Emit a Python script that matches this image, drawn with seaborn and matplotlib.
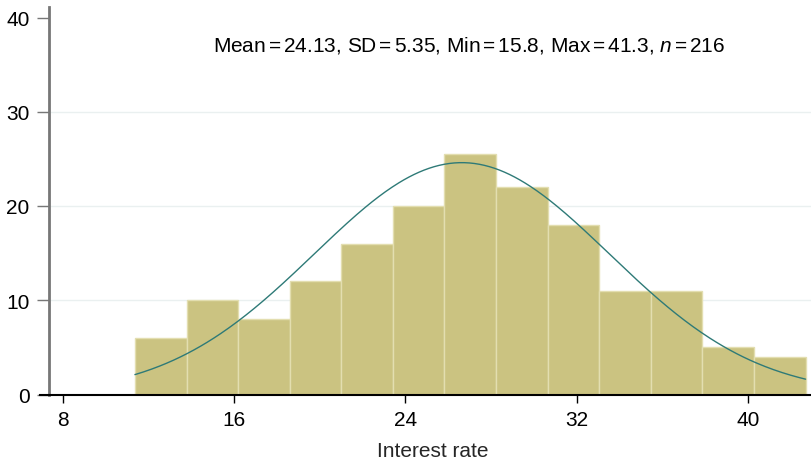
import numpy as np
import pandas as pd
import matplotlib
matplotlib.use("Agg")
import matplotlib.pyplot as plt
import seaborn as sns

# ---- data ----
bin_start = 11.36
bin_width = 2.41
counts = [6, 10, 8, 12, 16, 20, 25.5, 22, 18, 11, 11, 5, 4]
# fitted normal overlay
curve_mu = 26.63
curve_sigma = 6.89
curve_peak = 24.6
x_ticks = [8, 16, 24, 32, 40]
y_ticks = [0, 10, 20, 30, 40]
note = (r"Mean$\,$=$\,$24.13, SD$\,$=$\,$5.35, Min$\,$=$\,$15.8, "
        r"Max$\,$=$\,$41.3, $\mathit{n}$$\,$=$\,$216")
x_label = "Interest rate"

sns.set_theme(style="white")
plt.rcParams["font.family"] = ["Liberation Sans", "DejaVu Sans"]
plt.rcParams["mathtext.fontset"] = "custom"
plt.rcParams["mathtext.rm"] = "Liberation Sans"
plt.rcParams["mathtext.it"] = "Liberation Sans:italic"

n_bins = len(counts)
edges = bin_start + bin_width * np.arange(n_bins + 1)
centers = (edges[:-1] + edges[1:]) / 2
df = pd.DataFrame({"rate": centers, "count": counts})

W, H = 812, 460
fig = plt.figure(figsize=(W / 100, H / 100), dpi=100)
ax = fig.add_axes([40 / W, (H - 395.5) / H, (812 - 40) / W, (395.5 - 8) / H])

px_per_unit = (748 - 63) / 32.0
x_left = 8 - (63 - 40) / px_per_unit
x_right = 8 + (812 - 63) / px_per_unit
spine_x = 8 - (63 - 49) / px_per_unit

# gridlines
for yv in [10, 20, 30]:
    ax.axhline(yv, color="#eaf0f0", lw=1.0, zorder=0)

sns.histplot(data=df, x="rate", weights="count", binwidth=bin_width,
             binrange=(float(edges[0]), float(edges[-1])), ax=ax,
             color="#cbc381", edgecolor="#e3deb0", linewidth=1.0, alpha=1.0,
             zorder=2)

xs = np.linspace(edges[0], edges[-1], 400)
ys = curve_peak * np.exp(-0.5 * ((xs - curve_mu) / curve_sigma) ** 2)
sns.lineplot(x=xs, y=ys, ax=ax, color="#2e7a77", lw=1.0, zorder=3)

ax.set_xlim(x_left, x_right)
ax.set_ylim(0, (395.5 - 8) / 9.425)
ax.set_xticks(x_ticks)
ax.set_yticks(y_ticks)
ax.tick_params(axis="both", labelsize=15, colors="black")
ax.tick_params(axis="y", length=9, width=1.0, color="#777777", pad=5, direction="out", left=True)
ax.tick_params(axis="x", length=6, width=1.0, color="black", pad=5, direction="out", bottom=True)

for s in ["top", "right"]:
    ax.spines[s].set_visible(False)
ax.spines["left"].set_position(("data", spine_x))
ax.spines["left"].set_color("#777777")
ax.spines["left"].set_linewidth(2.0)
ax.spines["bottom"].set_color("black")
ax.spines["bottom"].set_linewidth(1.5)
ax.spines["left"].set_zorder(5)
ax.spines["bottom"].set_zorder(5)

ax.set_ylabel("")
ax.set_xlabel(x_label, fontsize=15)
ax.xaxis.set_label_coords((433 - 40) / (812 - 40), -(452 - 395.5) / (395.5 - 8))
ax.xaxis.label.set_verticalalignment("center")

ax.text((213 - 40) / (812 - 40), (395.5 - 45) / (395.5 - 8), note, transform=ax.transAxes,
        ha="left", va="center", fontsize=15, color="black")

fig.savefig("out.png", dpi=100)
